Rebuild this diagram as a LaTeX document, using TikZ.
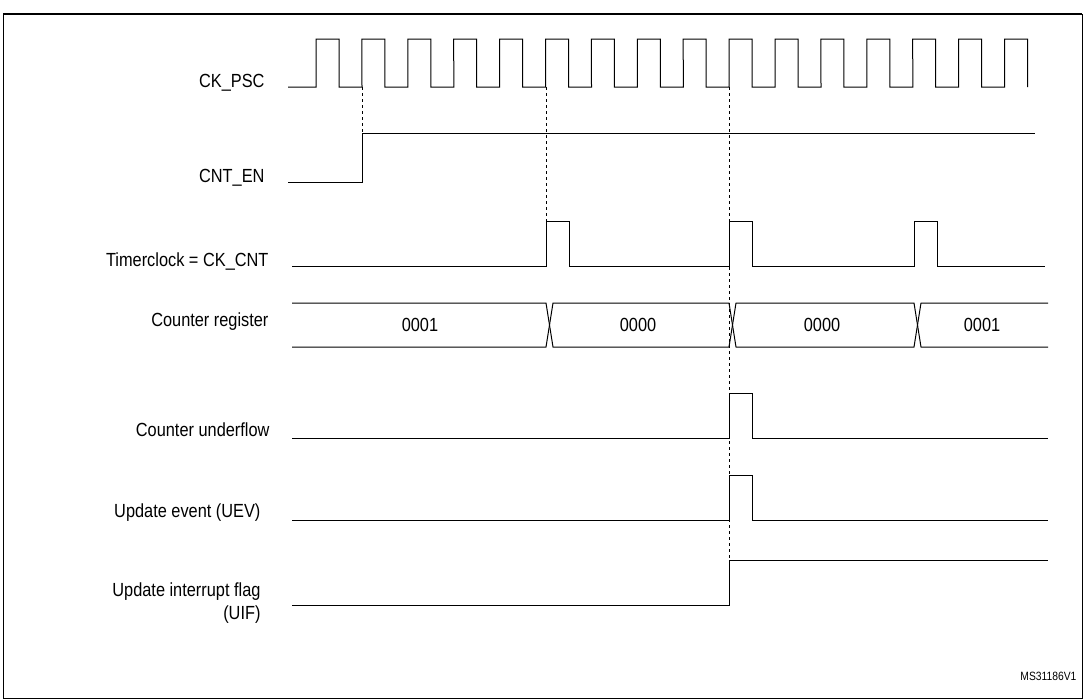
\documentclass[tikz,border=0pt]{standalone}
\usepackage{fontspec}
\setmainfont[FakeStretch=0.86]{Liberation Sans}
\usetikzlibrary{positioning}
\tikzset{
	signame/.style={
		anchor=east,
		align=right,
		font=\fontsize{19}{23}\selectfont
	},
	wave/.style={
		line width=1pt
	},
	sync/.style={
		dashed,
		line width=.8pt
	}
}

\begin{document}
\begin{tikzpicture}[x=1pt,y=-1pt]
	\useasboundingbox (0,0) rectangle (1085,699);
	\draw[line width=1pt] (3,698) -- (3,14) -- (1082,14) -- (1082,698) -- cycle;
	\draw[line width=2.5pt] (3,14) -- (1082,14);
	% signal names
	\node[signame] (psc) at (268,83) {CK\_PSC};
	\node[signame] (en) at (268,178) {CNT\_EN};
	\node[signame] (tclk) at (272,262) {Timerclock = CK\_CNT};
	\node[signame] (cnt) at (272,322) {Counter register};
	\node[signame] (udf) at (273,430) {Counter underflow};
	\node[signame] (uev) at (264,513) {Update event (UEV)};
	\node[signame] (uif) at (264,603) {Update interrupt flag\\(UIF)};
	\node[font=\fontsize{12}{14}\selectfont, anchor=south east] (ref) at (1080,684) {MS31186V1};
	% CK_PSC
	\draw[wave] (288,87) -- (316,87)
		\foreach \k in {0,...,15} {
			-- ({316+45.9*\k},39) -- ({339+45.9*\k},39) -- ({339+45.9*\k},87)
			\ifnum\k<15 -- ({362+45.9*\k},87)\fi
		};
	% CNT_EN
	\draw[wave] (288,182) -- (362,182) -- (362,133) -- (1035,133);
	% Timerclock
	\draw[wave] (292,266)
		\foreach \t in {546,729,914} {
			-- (\t,266) -- (\t,221) -- ({\t+23},221) -- ({\t+23},266)
		} -- (1045,266);
	% Counter register
	\draw[wave] (292,303) -- (546,303) -- (553,347) -- (729,347) -- (736,303) -- (914,303) -- (921,347) -- (1048,347);
	\draw[wave] (292,347) -- (546,347) -- (553,303) -- (729,303) -- (736,347) -- (914,347) -- (921,303) -- (1048,303);
	\foreach \x/\v in {420/0001,638/0000,822/0000,982/0001}
		\node[font=\fontsize{19}{23}\selectfont] at (\x,325) {\v};
	% underflow and update event
	\foreach \lo in {438,520} {
		\draw[wave] (292,\lo) -- (729,\lo) -- (729,\lo-45) -- (752,\lo-45) -- (752,\lo) -- (1048,\lo);
	}
	% UIF
	\draw[wave] (292,605) -- (729,605) -- (729,560) -- (1048,560);
	% sync lines
	\draw[sync] (362,87) -- (362,182);
	\draw[sync] (546,87) -- (546,266);
	\draw[sync] (729,87) -- (729,605);
\end{tikzpicture}
\end{document}
